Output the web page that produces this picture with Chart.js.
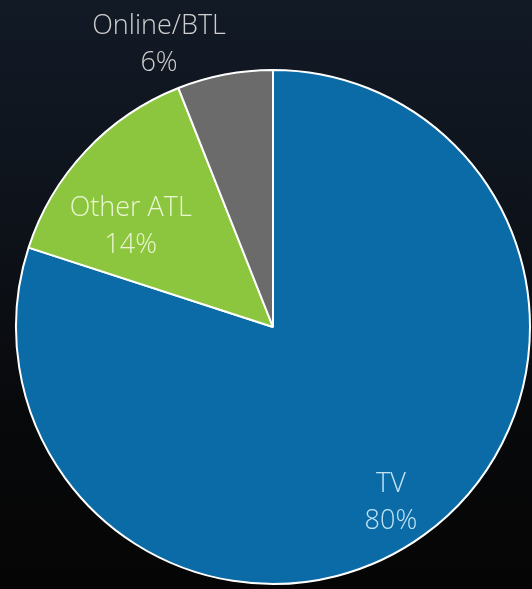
<!DOCTYPE html>
<html>
<head>
<meta charset="utf-8">
<script src="https://cdn.jsdelivr.net/npm/chart.js@4.4.0/dist/chart.umd.min.js"></script>
<style>
  html, body { margin: 0; padding: 0; }
  body {
    width: 532px; height: 589px; overflow: hidden;
    background: linear-gradient(to bottom, #121a26 0%, #0e131b 35%, #08090b 70%, #050505 100%);
  }
  canvas { display: block; }
</style>
</head>
<body>
<canvas id="myChart" width="532" height="589"></canvas>
<script>
    "use strict";

    // chart data
    const categories = ['TV', 'Other ATL', 'Online/BTL'];
    const shares = [80, 14, 6];
    const sliceColors = ['#0b6ba6', '#8cc63e', '#6b6b6b'];
    const labelColors = ['#c2e3f6', '#eaf6d2', '#cfcfcf'];

    // where each label sits: radius factor, then pixel nudges
    const labelPlace = [
        { r: 0.82, dx: -6, dy: 5 },
        { r: 0.69, dx: -13, dy: 21 },
        { r: 1.12, dx: -60, dy: 0 }
    ];

    const sliceLabels = {
        id: 'sliceLabels',
        afterDatasetsDraw(chart) {
            const ctx = chart.ctx;
            const meta = chart.getDatasetMeta(0);
            ctx.save();
            ctx.font = '300 27px "Open Sans", sans-serif';
            ctx.textAlign = 'center';
            ctx.textBaseline = 'middle';
            meta.data.forEach(function (arc, i) {
                const mid = (arc.startAngle + arc.endAngle) / 2;
                const p = labelPlace[i];
                const x = arc.x + Math.cos(mid) * arc.outerRadius * p.r + p.dx;
                const y = arc.y + Math.sin(mid) * arc.outerRadius * p.r + p.dy;
                ctx.fillStyle = labelColors[i];
                ctx.fillText(categories[i], x, y - 18);
                ctx.fillText(shares[i] + '%', x, y + 19);
            });
            ctx.restore();
        }
    };

    let ctx = document.getElementById('myChart').getContext('2d');
    let chart = new Chart(ctx, {
        type: 'pie',
        data: {
            labels: categories,
            datasets: [
                {
                    data: shares,
                    backgroundColor: sliceColors,
                    borderColor: '#ffffff',
                    borderWidth: 2
                }
            ]
        },
        options: {
            responsive: false,
            animation: false,
            layout: {
                padding: { left: 15, right: 1, top: 69, bottom: 4 }
            },
            plugins: {
                legend: { display: false },
                tooltip: { enabled: false }
            }
        },
        plugins: [sliceLabels]
    });
</script>
</body>
</html>
